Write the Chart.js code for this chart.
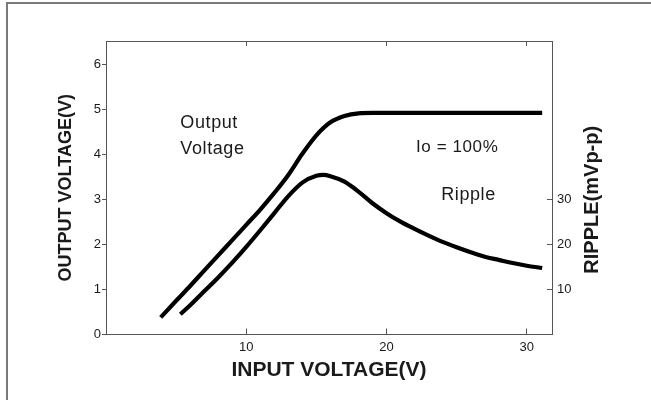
<!DOCTYPE html>
<html>
<head>
<meta charset="utf-8">
<script src="https://cdn.jsdelivr.net/npm/chart.js@4.4.1/dist/chart.umd.min.js"></script>
<style>
  html, body { margin: 0; padding: 0; background: #fff; overflow: hidden; }
  #wrap { position: relative; width: 651px; height: 400px; overflow: hidden; }
  #hline { position: absolute; left: 6px; top: 2px; width: 645px; height: 2px; background: #7a7a7a; }
  #vline { position: absolute; left: 6px; top: 2px; width: 2px; height: 398px; background: #7a7a7a; }
  canvas { position: absolute; left: 0; top: 0; }
</style>
</head>
<body>
<div id="wrap">
  <canvas id="c" width="651" height="400"></canvas>
  <div id="hline"></div>
  <div id="vline"></div>
</div>
<script>
// ---- data ----
const outputInputV = [3.9, 5, 6, 7, 8, 9, 10, 11, 12, 13, 14, 15, 16, 17, 18, 19, 22, 25, 28, 31.1];
const outputVoltage = [0.38, 0.75, 1.08, 1.42, 1.76, 2.1, 2.44, 2.78, 3.15, 3.55, 4.02, 4.43, 4.72, 4.86, 4.92, 4.93, 4.93, 4.93, 4.93, 4.93];

const rippleInputV = [5.3, 6, 7, 8, 9, 10, 11, 12, 13, 14, 15, 15.5, 16, 17, 18, 19, 20, 21, 22, 23, 24, 25, 26, 27, 28, 29, 30, 31.1];
const rippleMv = [4.5, 6.5, 9.6, 12.7, 16.0, 19.5, 23.2, 27.0, 30.8, 33.8, 35.3, 35.5, 35.2, 34.0, 31.8, 29.2, 27.0, 25.1, 23.5, 22.0, 20.6, 19.4, 18.3, 17.3, 16.6, 15.9, 15.3, 14.8];

const xTicks = [0, 10, 20, 30];
const yTicks = [0, 1, 2, 3, 4, 5, 6];
const y2Ticks = [10, 20, 30];
const topTicks = [10, 20, 30];

const xTitle = 'INPUT VOLTAGE(V)';
const yTitle = 'OUTPUT VOLTAGE(V)';
const y2Title = 'RIPPLE(mVp-p)';

const annotations = [
  { text: 'Output', x: 5.3, y: 4.71, size: 18 },
  { text: 'Voltage', x: 5.3, y: 4.13, size: 18 },
  { text: 'Io = 100%', x: 22.1, y: 4.16, size: 17 },
  { text: 'Ripple', x: 23.9, y: 3.1, size: 18 }
];

const FONT = "'Liberation Sans', Arial, Helvetica, sans-serif";
const INK = '#1a1a1a';
const AXIS = '#555';

const keep = (list) => (scale) => { scale.ticks = list.map(v => ({ value: v })); };

const textPlugin = {
  id: 'texts',
  afterDraw(chart) {
    const ctx = chart.ctx;
    const xs = chart.scales.x, ys = chart.scales.y;
    ctx.save();
    ctx.fillStyle = INK;
    ctx.textBaseline = 'middle';
    ctx.textAlign = 'left';
    annotations.forEach(a => {
      ctx.font = a.size + 'px ' + FONT;
      ctx.letterSpacing = '0.6px';
      ctx.fillText(a.text, xs.getPixelForValue(a.x), ys.getPixelForValue(a.y));
    });
    const y2 = chart.scales.y2;
    ctx.letterSpacing = '0px';
    ctx.font = 'bold 20px ' + FONT;
    ctx.translate(592, (y2.top + y2.bottom) / 2 + 12);
    ctx.rotate(-Math.PI / 2);
    ctx.textAlign = 'center';
    ctx.fillText(y2Title, 0, 0);
    ctx.restore();
  }
};

const lineStyle = {
  borderColor: '#000',
  backgroundColor: '#000',
  borderWidth: 4.2,
  pointRadius: 0,
  fill: false,
  cubicInterpolationMode: 'monotone',
  borderCapStyle: 'butt'
};

new Chart(document.getElementById('c'), {
  type: 'line',
  data: {
    datasets: [
      Object.assign({
        label: 'Output Voltage',
        data: outputInputV.map((v, i) => ({ x: v, y: outputVoltage[i] })),
        yAxisID: 'y', xAxisID: 'x'
      }, lineStyle),
      Object.assign({
        label: 'Ripple',
        data: rippleInputV.map((v, i) => ({ x: v, y: rippleMv[i] })),
        yAxisID: 'y2', xAxisID: 'x'
      }, lineStyle)
    ]
  },
  options: {
    responsive: false,
    animation: false,
    devicePixelRatio: 1,
    layout: { padding: 0 },
    plugins: { legend: { display: false }, tooltip: { enabled: false } },
    scales: {
      x: {
        type: 'linear', position: 'bottom', min: 0, max: 31.8,
        afterBuildTicks: keep(xTicks),
        afterFit: (s) => { s.height = 65.5; },
        border: { display: true, color: AXIS, width: 1 },
        grid: { drawOnChartArea: false, drawTicks: true, tickLength: -6, color: AXIS },
        ticks: { color: INK, font: { family: FONT, size: 13 }, padding: 11, maxRotation: 0, autoSkip: false,
                 callback: (v) => v === 0 ? '' : String(v) },
        title: { display: true, text: xTitle, color: INK,
                 font: { family: FONT, size: 21, weight: 'bold' }, padding: { top: 0, bottom: 17 } }
      },
      xt: {
        type: 'linear', position: 'top', min: 0, max: 31.8,
        afterBuildTicks: keep(topTicks),
        afterFit: (s) => { s.height = 41; },
        border: { display: true, color: AXIS, width: 1 },
        grid: { drawOnChartArea: false, drawTicks: true, tickLength: -5, color: AXIS },
        ticks: { display: true, autoSkip: false, callback: () => '' }
      },
      y: {
        type: 'linear', position: 'left', min: 0, max: 6.53,
        afterBuildTicks: keep(yTicks),
        afterFit: (s) => { s.width = 106; },
        border: { display: true, color: AXIS, width: 1 },
        grid: { drawOnChartArea: false, drawTicks: true, tickLength: 4, color: AXIS },
        ticks: { color: INK, font: { family: FONT, size: 13 }, padding: 1, autoSkip: false },
        title: { display: true, text: yTitle, color: INK,
                 font: { family: FONT, size: 18, weight: 'bold' }, padding: { top: 55, bottom: 0 } }
      },
      y2: {
        type: 'linear', position: 'right', min: 0, max: 65.3,
        afterBuildTicks: keep(y2Ticks),
        afterFit: (s) => { s.width = 99; },
        border: { display: true, color: AXIS, width: 1 },
        grid: { drawOnChartArea: false, drawTicks: true, tickLength: -5, color: AXIS },
        ticks: { color: INK, font: { family: FONT, size: 13 }, padding: 10, autoSkip: false }
      }
    }
  },
  plugins: [textPlugin]
});
</script>
</body>
</html>
